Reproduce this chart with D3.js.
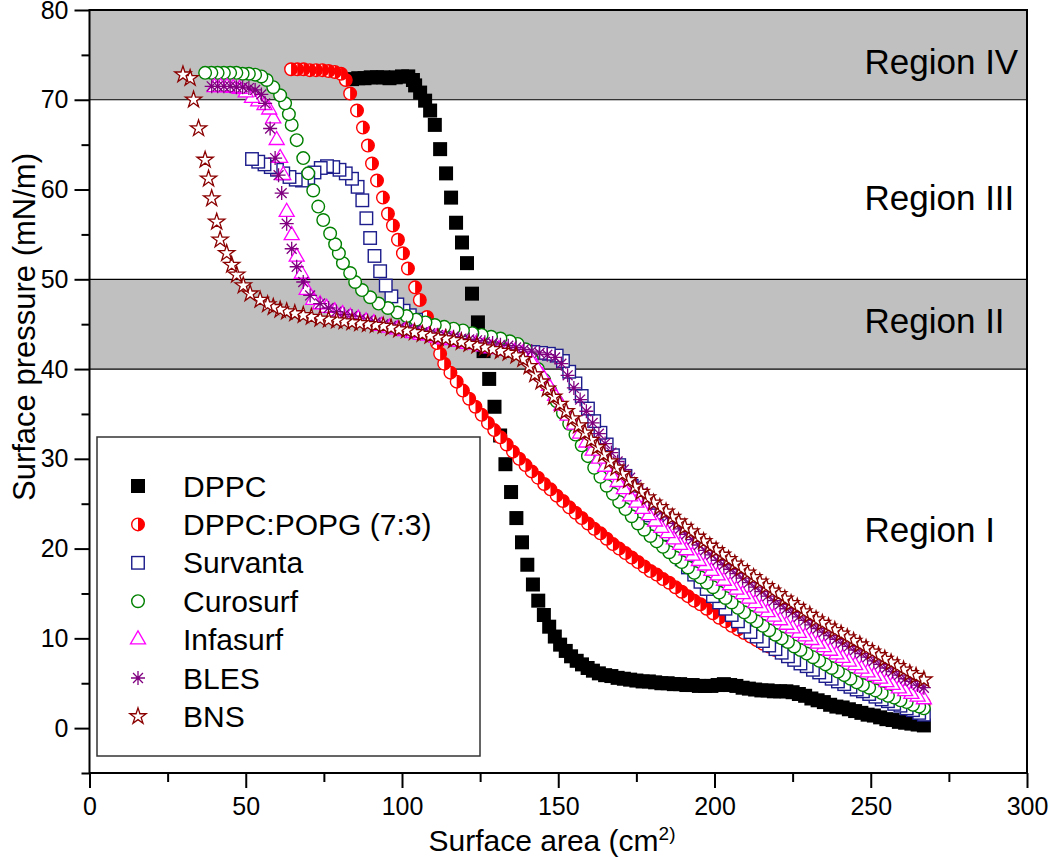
<!DOCTYPE html>
<html><head><meta charset="utf-8">
<script src="https://cdn.jsdelivr.net/npm/d3@7"></script>
<style>body{margin:0;background:#fff}svg{display:block}text{font-family:"Liberation Sans",Arial,Helvetica,sans-serif}</style>
</head><body><div id="chart"></div>
<script>
const seriesNames = ["DPPC","DPPC:POPG (7:3)","Survanta","Curosurf","Infasurf","BLES","BNS"];
const xTicks = [0,50,100,150,200,250,300];
const yTicks = [0,10,20,30,40,50,60,70,80];
const bands = [[70,80],[40,50]];
const regionNames = ["Region IV","Region III","Region II","Region I"];

const dppc = [[84.0,72.3],[86.0,72.4],[88.0,72.4],[90.0,72.5],[92.0,72.5],[94.0,72.5],[96.0,72.4],[98.0,72.5],[100.0,72.6],[102.0,72.6],[103.5,72.2],[104.2,71.6],[105.8,70.8],[107.4,69.9],[109.0,68.8],[110.5,67.2],[112.2,64.5],[114.1,61.8],[115.7,59.1],[117.3,56.3],[119.2,54.1],[120.8,51.8],[122.4,48.4],[124.3,45.2],[126.1,42.0],[127.9,38.9],[129.6,35.8],[131.4,32.6],[133.1,29.4],[134.9,26.3],[136.6,23.4],[138.4,20.7],[140.1,18.2],[141.9,16.0],[143.6,14.2],[145.4,12.6],[147.1,11.3],[148.9,10.2],[150.6,9.3],[152.4,8.6],[154.1,8.0],[155.9,7.5],[157.6,7.1],[159.4,6.7],[161.1,6.4],[163,6.1],[165,5.9],[167,5.8],[169,5.6],[171,5.5],[173,5.4],[175,5.3],[177,5.2],[179,5.2],[181,5.1],[183,5.0],[185,5.0],[187,4.9],[189,4.9],[191,4.8],[193,4.8],[195,4.7],[197,4.7],[199,4.7],[201,4.8],[203,4.9],[205,4.8],[207,4.7],[209,4.5],[211,4.4],[213,4.3],[215,4.2],[217,4.2],[219,4.1],[221,4.1],[223,4.1],[225,4.0],[227,3.8],[229,3.6],[231,3.3],[233,3.1],[235,2.9],[237,2.6],[239,2.4],[241,2.3],[243,2.1],[245,1.9],[247,1.7],[249,1.5],[251,1.4],[253,1.2],[255,1.0],[257,0.9],[259,0.7],[261,0.6],[263,0.5],[265,0.4],[267,0.3]];

const dppcPopg = [[64.5,73.4],[66.5,73.4],[68.5,73.4],[70.5,73.3],[72.5,73.3],[74.5,73.3],[76.5,73.2],[78.5,73.1],[80.5,72.9],[82.0,72.2],[83.4,70.7],[85.6,68.8],[87.5,66.9],[89.1,64.9],[90.4,62.9],[92.0,61.0],[93.9,59.1],[95.5,57.3],[97.1,56.0],[98.7,54.4],[100.3,52.9],[101.9,51.2],[104.2,49.1],[105.7,47.7],[108.0,45.8],[109.9,44.7],[111.2,42.9],[112.2,41.7],[113.5,40.6],[115.5,39.6],[117.5,38.6],[119.5,37.6],[121.5,36.7],[123.5,35.8],[125.5,34.9],[127.5,34.0],[129.5,33.2],[131.5,32.4],[133.5,31.6],[135.5,30.8],[137.5,30.0],[139.5,29.3],[141.5,28.6],[143.5,27.9],[145.5,27.2],[147.5,26.6],[149.5,25.9],[151.5,25.3],[153.5,24.6],[155.5,24.0],[157.5,23.4],[159.5,22.8],[161.5,22.2],[163.5,21.7],[165.5,21.1],[167.5,20.5],[169.5,20.0],[171.5,19.5],[173.5,19.0],[175.5,18.5],[177.5,18.0],[179.5,17.5],[181.5,17.1],[183.5,16.6],[185.5,16.2],[187.5,15.7],[189.5,15.2],[191.5,14.7],[193.5,14.2],[195.5,13.8],[197.5,13.3],[199.5,12.8],[201.5,12.3],[203.5,11.9],[205.5,11.4],[207.5,11.0],[209.5,10.6],[211.5,10.2],[213.5,9.8],[215.5,9.4],[217.5,9.1],[219.5,8.7],[221.5,8.4],[223.5,8.0],[225.5,7.7],[227.5,7.4],[229.5,7.1],[231.5,6.8],[233.5,6.5],[235.5,6.2],[237.5,5.9],[239.5,5.7],[241.5,5.4],[243.5,5.1],[245.5,4.9],[247.5,4.6],[249.5,4.4],[251.5,4.2],[253.5,3.9],[255.5,3.7],[257.5,3.5],[259.5,3.3],[261.5,3.1],[263.5,3.0],[265.5,2.9],[267,2.8]];

const survanta = [[52.0,63.4],[54.0,63.1],[56.0,62.8],[58.0,62.5],[60.0,62.2],[62.0,61.8],[64.0,61.4],[66.0,61.1],[68.0,61.0],[70.0,61.3],[72.0,61.9],[74.0,62.4],[76.0,62.6],[78.0,62.5],[80.0,62.2],[82.0,61.8],[84.0,61.2],[85.8,60.3],[87.3,58.8],[88.6,56.8],[89.8,54.6],[91.2,52.6],[93.0,50.9],[94.8,49.3],[96.6,48.1],[98.5,47.2],[100.5,46.5],[102.5,46.0],[104.5,45.5],[107,45.0],[109.5,44.6],[112,44.3],[114.5,44.0],[117,43.7],[119.5,43.5],[122,43.2],[124.5,43.0],[127,42.8],[129.5,42.6],[132,42.4],[134.5,42.2],[137,42.0],[139.5,41.9],[142,41.9],[144.5,41.8],[147,41.7],[149.5,41.5],[151.5,40.9],[153.5,39.7],[155.5,38.4],[157.5,37.0],[159.5,35.6],[161.5,34.2],[163.5,32.9],[165.5,31.6],[167.5,30.4],[169.5,29.3],[171.5,28.1],[173.5,27.0],[175.5,25.9],[177.5,24.8],[179.5,23.7],[181.5,22.6],[183.5,21.6],[185.5,20.7],[187.5,19.7],[189.5,18.8],[191.5,17.9],[193.5,17.1],[195.5,16.3],[197.5,15.5],[199.5,14.7],[201.5,14.0],[203.5,13.3],[205.5,12.6],[207.5,11.9],[209.5,11.3],[211.5,10.7],[213.5,10.2],[215.5,9.7],[217.5,9.2],[219.5,8.8],[221.5,8.4],[223.5,8.0],[225.5,7.6],[227.5,7.2],[229.5,6.9],[231.5,6.5],[233.5,6.2],[235.5,5.8],[237.5,5.5],[239.5,5.2],[241.5,4.9],[243.5,4.6],[245.5,4.3],[247.5,4.1],[249.5,3.8],[251.5,3.5],[253.5,3.2],[255.5,3.0],[257.5,2.7],[259.5,2.5],[261.5,2.2],[263.5,2.0],[265.5,1.7],[267,1.5]];

const curosurf = [[37.0,73.0],[39.0,73.0],[41.0,73.0],[43.0,73.0],[45.0,73.0],[47.0,73.0],[49.0,72.9],[51.0,72.9],[53.0,72.8],[55.0,72.6],[56.7,72.2],[58.8,71.4],[61.0,70.5],[62.6,69.6],[63.8,68.4],[64.7,67.2],[66.3,65.5],[68.4,63.5],[70.0,61.8],[71.6,59.9],[73.2,58.1],[74.8,56.6],[77.0,55.1],[78.6,53.9],[79.8,52.9],[81.1,51.8],[83.4,50.7],[85.0,49.7],[87.2,48.8],[89.8,48.0],[92.5,47.3],[95.5,46.8],[98.5,46.3],[101.5,45.9],[104.5,45.5],[107.5,45.2],[110.5,44.9],[113.5,44.7],[116.5,44.5],[119.5,44.3],[122.5,44.0],[125.5,43.8],[128.5,43.6],[131.5,43.4],[134.5,43.1],[137,42.8],[139.5,42.2],[141.5,41.2],[143.5,40.0],[145.5,38.8],[147.5,37.6],[149.5,36.4],[151.5,35.1],[153.5,33.9],[155.5,32.7],[157.5,31.5],[159.5,30.3],[161.5,29.0],[163.5,28.0],[165.5,27.0],[167.5,26.1],[169.5,25.2],[171.5,24.4],[173.5,23.6],[175.5,22.8],[177.5,22.1],[179.5,21.4],[181.5,20.8],[183.5,20.2],[185.5,19.6],[187.5,19.0],[189.5,18.5],[191.5,17.9],[193.5,17.3],[195.5,16.8],[197.5,16.2],[199.5,15.7],[201.5,15.1],[203.5,14.5],[205.5,14.0],[207.5,13.4],[209.5,12.9],[211.5,12.4],[213.5,11.9],[215.5,11.4],[217.5,10.9],[219.5,10.4],[221.5,10.0],[223.5,9.6],[225.5,9.1],[227.5,8.7],[229.5,8.3],[231.5,7.9],[233.5,7.5],[235.5,7.1],[237.5,6.7],[239.5,6.3],[241.5,5.9],[243.5,5.5],[245.5,5.1],[247.5,4.8],[249.5,4.5],[251.5,4.2],[253.5,3.9],[255.5,3.6],[257.5,3.4],[259.5,3.1],[261.5,2.9],[263.5,2.6],[265.5,2.4],[267,2.2]];

const infasurf = [[40,71.4],[42,71.4],[44,71.4],[46,71.3],[48,71.2],[50,70.8],[52,70.2],[54,69.8],[56,69.4],[57.5,68.9],[58.8,67.9],[59.9,65.5],[61,63.5],[62,61.6],[63.1,57.5],[64.7,54.9],[66.3,52.5],[67.9,50.6],[69.5,48.8],[71.6,47.7],[73.8,47.2],[75.9,46.8],[78.5,46.4],[81,46.1],[83.5,45.8],[86,45.6],[88.5,45.3],[91,45.1],[93.5,44.8],[96,44.6],[98.5,44.4],[101,44.2],[103.5,44.0],[106,43.8],[108.5,43.7],[111,43.5],[113.5,43.3],[116,43.2],[118.5,43.0],[121,42.8],[123.5,42.7],[126,42.5],[128.5,42.3],[131,42.2],[133.5,42.0],[136,41.9],[138.5,41.7],[141,41.1],[143,40.2],[145,39.2],[147,38.1],[149,37.0],[151,35.9],[153,34.8],[155,33.8],[157,32.8],[159,31.8],[161,30.9],[163,30.0],[165,29.1],[167,28.2],[169,27.4],[171,26.6],[173,25.8],[175,25.1],[177,24.4],[179,23.7],[181,23.0],[183,22.3],[185,21.7],[187,21.0],[189,20.4],[191,19.8],[193,19.2],[195,18.6],[197,18.1],[199,17.5],[201,17.0],[203,16.4],[205,15.9],[207,15.4],[209,14.9],[211,14.4],[213,13.9],[215,13.4],[217,12.9],[219,12.4],[221,12.0],[223,11.5],[225,11.1],[227,10.6],[229,10.2],[231,9.8],[233,9.4],[235,9.0],[237,8.6],[239,8.2],[241,7.8],[243,7.4],[245,7.0],[247,6.6],[249,6.2],[251,5.8],[253,5.5],[255,5.1],[257,4.8],[259,4.4],[261,4.1],[263,3.8],[265,3.5],[267,3.2]];

const bles = [[39.1,71.5],[41,71.5],[43,71.5],[45,71.5],[47,71.4],[49,71.4],[51,71.3],[53,71.1],[55,70.6],[56.2,69.6],[57.8,66.8],[59.4,63.5],[60.5,61.6],[61.5,59.6],[63.1,56.2],[64.7,53.4],[66.3,51.4],[68.4,49.7],[70.6,48.2],[73.8,47.3],[76.5,46.8],[79,46.4],[81.5,46.1],[84,45.9],[86.5,45.6],[89,45.4],[91.5,45.2],[94,45.0],[96.5,44.8],[99,44.6],[101.5,44.4],[104,44.3],[106.5,44.1],[109,44.0],[111.5,43.8],[114,43.7],[116.5,43.6],[119,43.4],[121.5,43.3],[124,43.2],[126.5,43.0],[129,42.9],[131.5,42.7],[134,42.6],[136.5,42.4],[139,42.2],[141.5,42.0],[144,41.8],[146.5,41.6],[149,41.3],[151,40.6],[153,39.3],[155,37.9],[157,36.6],[159,35.3],[161,34.0],[163,32.8],[165,31.7],[167,30.7],[169,29.7],[171,28.8],[173,27.9],[175,27.1],[177,26.3],[179,25.5],[181,24.8],[183,24.1],[185,23.5],[187,22.8],[189,22.2],[191,21.6],[193,21.0],[195,20.4],[197,19.8],[199,19.3],[201,18.7],[203,18.2],[205,17.7],[207,17.2],[209,16.7],[211,16.2],[213,15.7],[215,15.2],[217,14.7],[219,14.2],[221,13.8],[223,13.3],[225,12.9],[227,12.4],[229,12.0],[231,11.5],[233,11.1],[235,10.7],[237,10.3],[239,9.9],[241,9.5],[243,9.1],[245,8.7],[247,8.3],[249,7.9],[251,7.5],[253,7.1],[255,6.7],[257,6.3],[259,5.9],[261,5.5],[263,5.2],[265,4.8],[267,4.5]];

const bns = [[29.9,72.8],[32.2,72.4],[33.3,70.0],[34.9,66.8],[37.0,63.3],[38.1,61.2],[39.1,59.0],[40.7,56.4],[41.8,54.4],[43.9,52.9],[45.5,51.6],[47.1,50.5],[49.2,49.3],[51.4,48.4],[54.6,47.7],[57,47.2],[58.8,46.9],[61,46.6],[63.1,46.4],[65.7,46.2],[68.4,46.0],[71,45.8],[73.8,45.6],[76.5,45.5],[79.1,45.4],[81.5,45.3],[84,45.2],[86.5,45.1],[89,45.0],[91.5,44.9],[94,44.8],[96.5,44.6],[99,44.4],[101.5,44.3],[104,44.1],[106.5,43.9],[109,43.7],[111.5,43.5],[114,43.4],[116.5,43.2],[119,43.0],[121.5,42.8],[124,42.6],[126.5,42.4],[129,42.2],[131.5,42.0],[134,41.8],[136.5,41.5],[138.7,41.1],[140.7,40.3],[142.5,39.4],[144.5,38.6],[146.5,37.8],[148.5,36.9],[150.5,36.1],[152.5,35.3],[154.5,34.5],[156.5,33.7],[158.5,32.9],[160.5,32.1],[162.5,31.3],[164.5,30.5],[166.5,29.7],[168.5,29.0],[170.5,28.3],[172.5,27.6],[174.5,26.9],[176.5,26.3],[178.5,25.7],[180.5,25.1],[182.5,24.6],[184.5,24.1],[186.5,23.5],[188.5,23.0],[190.5,22.4],[192.5,21.9],[194.5,21.3],[196.5,20.8],[198.5,20.3],[200.5,19.8],[202.5,19.3],[204.5,18.8],[206.5,18.3],[208.5,17.8],[210.5,17.3],[212.5,16.8],[214.5,16.3],[216.5,15.8],[218.5,15.3],[220.5,14.9],[222.5,14.4],[224.5,13.9],[226.5,13.5],[228.5,13.0],[230.5,12.6],[232.5,12.1],[234.5,11.7],[236.5,11.3],[238.5,10.9],[240.5,10.5],[242.5,10.1],[244.5,9.7],[246.5,9.3],[248.5,8.9],[250.5,8.5],[252.5,8.1],[254.5,7.7],[256.5,7.3],[258.5,6.9],[260.5,6.5],[262.5,6.1],[264.5,5.8],[267,5.4]];

const seriesData = [dppc, dppcPopg, survanta, curosurf, infasurf, bles, bns];

// ---------- layout / style ----------
const W = 1050, H = 859;
const M = {left: 89.5, right: 1027, top: 10, bottom: 773};
const styles = [
  {type:"sq", color:"#000000"},
  {type:"half", color:"#ff0000"},
  {type:"osq", color:"#1c1c8c"},
  {type:"circ", color:"#008000"},
  {type:"tri", color:"#ff00ff"},
  {type:"ast", color:"#800080"},
  {type:"star", color:"#8b0000"}
];
const regionPos = [[248,72.9],[248,57.7],[248,44.0],[248,20.7]];

const svg = d3.select("#chart").append("svg").attr("width", W).attr("height", H);
const x = d3.scaleLinear().domain([0,300]).range([M.left, M.right]);
const y = d3.scaleLinear().domain([-5,80]).range([M.bottom, M.top]);

svg.append("g").selectAll("rect").data(bands).join("rect")
  .attr("x", x(0)).attr("width", x(300)-x(0))
  .attr("y", d => y(d[1])).attr("height", d => y(d[0]) - y(d[1]))
  .attr("fill", "#c0c0c0");
svg.append("g").selectAll("line").data([70,50,40]).join("line")
  .attr("x1", x(0)).attr("x2", x(300)).attr("y1", d => y(d)).attr("y2", d => y(d))
  .attr("stroke", "#000").attr("stroke-width", 1.2);

svg.append("g").selectAll("text").data(regionNames).join("text")
  .attr("x", (d,i) => x(regionPos[i][0])).attr("y", (d,i) => y(regionPos[i][1]))
  .attr("font-size", 35).attr("fill", "#000").text(d => d);

function drawMarker(g, st, size) {
  const c = st.color;
  const s = size;
  if (st.type === "sq") {
    g.append("rect").attr("x", -s/2).attr("y", -s/2).attr("width", s).attr("height", s).attr("fill", c);
  } else if (st.type === "osq") {
    const a = s - 1.5;
    g.append("rect").attr("x", -a/2).attr("y", -a/2).attr("width", a).attr("height", a)
      .attr("fill", "#fff").attr("stroke", c).attr("stroke-width", 1.4);
  } else if (st.type === "circ") {
    g.append("circle").attr("r", s/2 - 0.7).attr("fill", "#fff").attr("stroke", c).attr("stroke-width", 1.4);
  } else if (st.type === "half") {
    const r = s/2 - 0.7;
    g.append("circle").attr("r", r).attr("fill", "#fff").attr("stroke", c).attr("stroke-width", 1.4);
    g.append("path").attr("d", `M0,${-r}A${r},${r} 0 0 1 0,${r}Z`).attr("fill", c);
  } else if (st.type === "tri") {
    g.append("path").attr("d", d3.symbol(d3.symbolTriangle, s*s*0.5)())
      .attr("fill", "#fff").attr("stroke", c).attr("stroke-width", 1.3);
  } else if (st.type === "star") {
    g.append("path").attr("d", d3.symbol(d3.symbolStar, s*s*0.42)())
      .attr("fill", "#fff").attr("stroke", c).attr("stroke-width", 1.3);
  } else if (st.type === "ast") {
    const r = s/2;
    const p = [];
    for (let k = 0; k < 4; k++) {
      const ang = k*Math.PI/4;
      p.push(`M${(-r*Math.sin(ang)).toFixed(2)},${(-r*Math.cos(ang)).toFixed(2)}L${(r*Math.sin(ang)).toFixed(2)},${(r*Math.cos(ang)).toFixed(2)}`);
    }
    g.append("path").attr("d", p.join("")).attr("stroke", c).attr("stroke-width", 1.3).attr("fill", "none");
    g.append("circle").attr("r", 1.6).attr("fill", c);
  }
}

// points are drawn in compression order (large area first), as in the measurement
const plot = svg.append("g");
seriesData.forEach((data, i) => {
  const gs = plot.append("g");
  gs.selectAll("g").data(data.slice().reverse()).join("g")
    .attr("transform", d => `translate(${x(d[0])},${y(d[1])})`)
    .each(function() { drawMarker(d3.select(this), styles[i], 14); });
});

svg.append("rect").attr("x", x(0)).attr("y", y(80)).attr("width", x(300)-x(0)).attr("height", y(-5)-y(80))
  .attr("fill", "none").attr("stroke", "#000").attr("stroke-width", 2);

const xAxis = d3.axisBottom(x).tickValues(xTicks).tickSize(15).tickPadding(9).tickFormat(d3.format("d"));
const gx = svg.append("g").attr("transform", `translate(0,${M.bottom})`).call(xAxis);
gx.select(".domain").remove();
gx.selectAll("line").attr("stroke-width", 2);
gx.selectAll("text").attr("font-size", 25).attr("font-family", "Liberation Sans, Arial, sans-serif");
const gxm = svg.append("g").attr("transform", `translate(0,${M.bottom})`)
  .call(d3.axisBottom(x).tickValues(d3.range(25,300,50)).tickSize(9).tickFormat(""));
gxm.select(".domain").remove(); gxm.selectAll("line").attr("stroke-width", 2);

const yAxis = d3.axisLeft(y).tickValues(yTicks).tickSize(15).tickPadding(6).tickFormat(d3.format("d"));
const gy = svg.append("g").attr("transform", `translate(${M.left},0)`).call(yAxis);
gy.select(".domain").remove();
gy.selectAll("line").attr("stroke-width", 2);
gy.selectAll("text").attr("font-size", 25).attr("font-family", "Liberation Sans, Arial, sans-serif");
const gym = svg.append("g").attr("transform", `translate(${M.left},0)`)
  .call(d3.axisLeft(y).tickValues(d3.range(-5,80,10)).tickSize(8).tickFormat(""));
gym.select(".domain").remove(); gym.selectAll("line").attr("stroke-width", 2);

const xt = svg.append("text").attr("x", 552).attr("y", 851).attr("text-anchor", "middle").attr("font-size", 30);
xt.append("tspan").text("Surface area (cm");
xt.append("tspan").attr("font-size", 19).attr("dy", -11).text("2)");
svg.append("text").attr("transform", "translate(35,327) rotate(-90)").attr("text-anchor", "middle")
  .attr("font-size", 31).text("Surface pressure (mN/m)");

const lg = svg.append("g");
lg.append("rect").attr("x", 97).attr("y", 437).attr("width", 383).attr("height", 319)
  .attr("fill", "#fff").attr("stroke", "#333").attr("stroke-width", 1.5);
seriesNames.forEach((n, i) => {
  const cy = 486 + i*38.4;
  const g = lg.append("g").attr("transform", `translate(138,${cy})`);
  drawMarker(g, styles[i], 14);
  lg.append("text").attr("x", 183).attr("y", cy + 10.5).attr("font-size", 30).text(n);
});
</script></body></html>
